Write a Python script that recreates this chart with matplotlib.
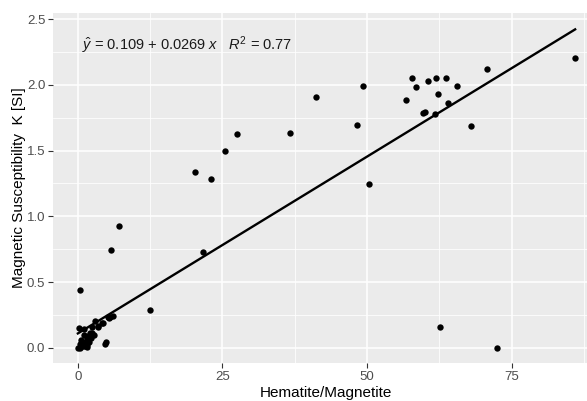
import matplotlib
matplotlib.use('Agg')
import matplotlib.pyplot as plt
import numpy as np

plt.rcParams['font.family'] = ['Liberation Sans', 'DejaVu Sans']
plt.rcParams['mathtext.fontset'] = 'custom'
plt.rcParams['mathtext.rm'] = 'Liberation Sans'
plt.rcParams['mathtext.it'] = 'Liberation Sans:italic'

# hematite/magnetite ratio vs magnetic susceptibility
hem_mag = [0.0, 0.4, 0.95, 1.2, 1.5, 1.8, 2.1, 1.5, 0.3, 0.6, 0.9, 1.3, 1.6,
           0.55, 1.9, 2.2, 2.5, 2.85, 1.0, 0.26, 1.1, 2.5, 3.4, 4.1, 3.0,
           3.5, 4.4, 4.8, 5.2, 5.6, 5.3, 6.1, 0.43, 4.75, 5.8, 7.2, 12.5,
           20.3, 21.7, 23.1, 25.5, 27.6, 36.7, 41.1, 48.2, 49.3, 50.3,
           56.7, 57.8, 58.5, 59.7, 60.1, 60.5, 61.7, 62.0, 62.3, 62.7,
           63.7, 64.0, 65.6, 68.0, 70.7, 72.5, 86.0]
susc = [0.0, 0.0, 0.02, 0.046, 0.071, 0.091, 0.11, 0.008, 0.03, 0.01, 0.015,
        0.01, 0.02, 0.059, 0.046, 0.071, 0.114, 0.097, 0.097, 0.152, 0.142,
        0.16, 0.167, 0.186, 0.203, 0.158, 0.185, 0.041, 0.231, 0.236, 0.23,
        0.24, 0.439, 0.03, 0.746, 0.924, 0.287,
        1.337, 0.731, 1.284, 1.499, 1.624, 1.636, 1.905, 1.692, 1.99, 1.246,
        1.883, 2.053, 1.984, 1.786, 1.791, 2.030, 1.778, 2.053, 1.930, 0.155,
        2.053, 1.860, 1.992, 1.685, 2.121, 0.0, 2.207]

intercept = 0.109
slope = 0.0269
r2 = 0.77

fig = plt.figure(figsize=(5.87, 4.01), dpi=100)
ax = fig.add_axes([53 / 587, 38 / 401, 547 / 587, 350 / 401])
ax.set_facecolor('#EBEBEB')

ax.set_xticks([0, 25, 50, 75])
ax.set_xticks([12.5, 37.5, 62.5, 87.5], minor=True)
ax.set_yticks([0.0, 0.5, 1.0, 1.5, 2.0, 2.5])
ax.set_yticks([0.25, 0.75, 1.25, 1.75, 2.25], minor=True)
ax.set_yticklabels(['0.0', '0.5', '1.0', '1.5', '2.0', '2.5'])
ax.grid(which='major', color='white', lw=1.1)
ax.grid(which='minor', color='white', lw=0.55)
ax.set_axisbelow(True)
for s in ax.spines.values():
    s.set_visible(False)
ax.tick_params(which='major', length=3.5, width=0.8, color='#333333',
               labelcolor='#4D4D4D', labelsize=9.5, pad=2)
ax.tick_params(which='minor', length=0)

xs = np.array([0, max(hem_mag)])
ax.plot(xs, intercept + slope * xs, color='black', lw=1.7, zorder=2)
ax.scatter(hem_mag, susc, s=21, color='black', zorder=3, linewidths=0)

ax.text(0.7, 2.30, r'$\hat{y}$ = 0.109 + 0.0269 $x$   $R^2$ = 0.77',
        fontsize=10.5, color='#1a1a1a', va='center', ha='left')

ax.set_xlim(-4.3, 90.3)
ax.set_ylim(-0.116, 2.547)

fig.text(326 / 587, 1 - 393 / 401, 'Hematite/Magnetite', fontsize=11,
         ha='center', va='center')
fig.text(19 / 587, 1 - 188 / 401, 'Magnetic Susceptibility  K [SI]',
         fontsize=11, ha='center', va='center', rotation=90)

fig.savefig('out.png', dpi=100)
